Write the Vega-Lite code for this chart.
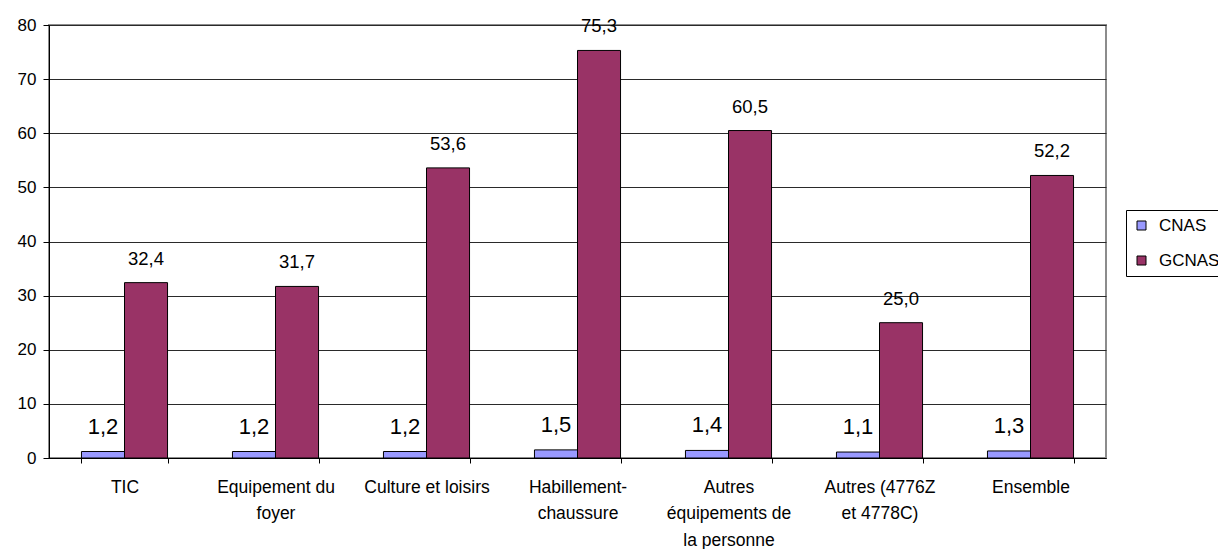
{
  "$schema": "https://vega.github.io/schema/vega-lite/v6.json",
  "autosize": "none",
  "width": 1057,
  "height": 433,
  "padding": {"left": 49, "top": 25, "right": 112, "bottom": 91},
  "background": "white",
  "config": {
    "font": "Liberation Sans",
    "view": {"stroke": "#8c8c8c", "strokeWidth": 2},
    "locale": {
      "number": {"decimal": ",", "thousands": " ", "grouping": [3], "currency": ["", " €"]}
    }
  },
  "data": {
    "values": [
      {"categorie": "TIC", "serie": "CNAS", "valeur": 1.2},
      {"categorie": "TIC", "serie": "GCNAS", "valeur": 32.4},
      {"categorie": "Equipement du foyer", "serie": "CNAS", "valeur": 1.2},
      {"categorie": "Equipement du foyer", "serie": "GCNAS", "valeur": 31.7},
      {"categorie": "Culture et loisirs", "serie": "CNAS", "valeur": 1.2},
      {"categorie": "Culture et loisirs", "serie": "GCNAS", "valeur": 53.6},
      {"categorie": "Habillement-chaussure", "serie": "CNAS", "valeur": 1.5},
      {"categorie": "Habillement-chaussure", "serie": "GCNAS", "valeur": 75.3},
      {"categorie": "Autres équipements de la personne", "serie": "CNAS", "valeur": 1.4},
      {"categorie": "Autres équipements de la personne", "serie": "GCNAS", "valeur": 60.5},
      {"categorie": "Autres (4776Z et 4778C)", "serie": "CNAS", "valeur": 1.1},
      {"categorie": "Autres (4776Z et 4778C)", "serie": "GCNAS", "valeur": 25.0},
      {"categorie": "Ensemble", "serie": "CNAS", "valeur": 1.3},
      {"categorie": "Ensemble", "serie": "GCNAS", "valeur": 52.2}
    ]
  },
  "encoding": {
    "x": {
      "field": "categorie",
      "type": "nominal",
      "sort": null,
      "title": null,
      "scale": {"paddingInner": 0.43, "paddingOuter": 0.215},
      "axis": {
        "labelAngle": 0,
        "labelFontSize": 17.5,
        "labelColor": "#000",
        "labelLineHeight": 26.5,
        "labelPadding": 15,
        "labelBaseline": "top",
        "tickBand": "extent",
        "tickSize": 5,
        "tickColor": "#000",
        "domainColor": "#000",
        "labelExpr": "datum.value == 'Equipement du foyer' ? ['Equipement du', 'foyer'] : datum.value == 'Habillement-chaussure' ? ['Habillement-', 'chaussure'] : datum.value == 'Autres équipements de la personne' ? ['Autres', 'équipements de', 'la personne'] : datum.value == 'Autres (4776Z et 4778C)' ? ['Autres (4776Z', 'et 4778C)'] : datum.label"
      }
    },
    "xOffset": {"field": "serie", "type": "nominal", "scale": {"paddingInner": 0, "paddingOuter": 0}},
    "y": {
      "field": "valeur",
      "type": "quantitative",
      "title": null,
      "scale": {"domain": [0, 80], "nice": false},
      "axis": {
        "values": [0, 10, 20, 30, 40, 50, 60, 70, 80],
        "labelFontSize": 17,
        "labelColor": "#000",
        "labelPadding": 7,
        "tickSize": 6,
        "tickColor": "#000",
        "domainColor": "#000",
        "gridColor": "#2a2a2a",
        "gridOpacity": 1
      }
    }
  },
  "layer": [
    {
      "mark": {"type": "bar", "stroke": "#000", "strokeWidth": 1},
      "encoding": {
        "color": {
          "field": "serie",
          "type": "nominal",
          "title": null,
          "scale": {"domain": ["CNAS", "GCNAS"], "range": ["#9999ff", "#993366"]},
          "legend": {
            "orient": "none",
            "legendX": 1077,
            "legendY": 185,
            "symbolType": "square",
            "symbolSize": 81,
            "symbolStrokeColor": "#000",
            "symbolStrokeWidth": 1,
            "labelFontSize": 17,
            "labelColor": "#000",
            "labelOffset": 9,
            "rowPadding": 17,
            "padding": 7,
            "strokeColor": "#000",
            "fillColor": "#fff"
          }
        }
      }
    },
    {
      "transform": [{"filter": "datum.serie == 'CNAS'"}],
      "mark": {"type": "text", "baseline": "alphabetic", "dy": -18, "fontSize": 22, "color": "#000"},
      "encoding": {"text": {"field": "valeur", "type": "quantitative", "format": ".1f"}}
    },
    {
      "transform": [{"filter": "datum.serie == 'GCNAS'"}],
      "mark": {"type": "text", "baseline": "alphabetic", "dy": -18, "fontSize": 18.5, "color": "#000"},
      "encoding": {"text": {"field": "valeur", "type": "quantitative", "format": ".1f"}}
    }
  ]
}
